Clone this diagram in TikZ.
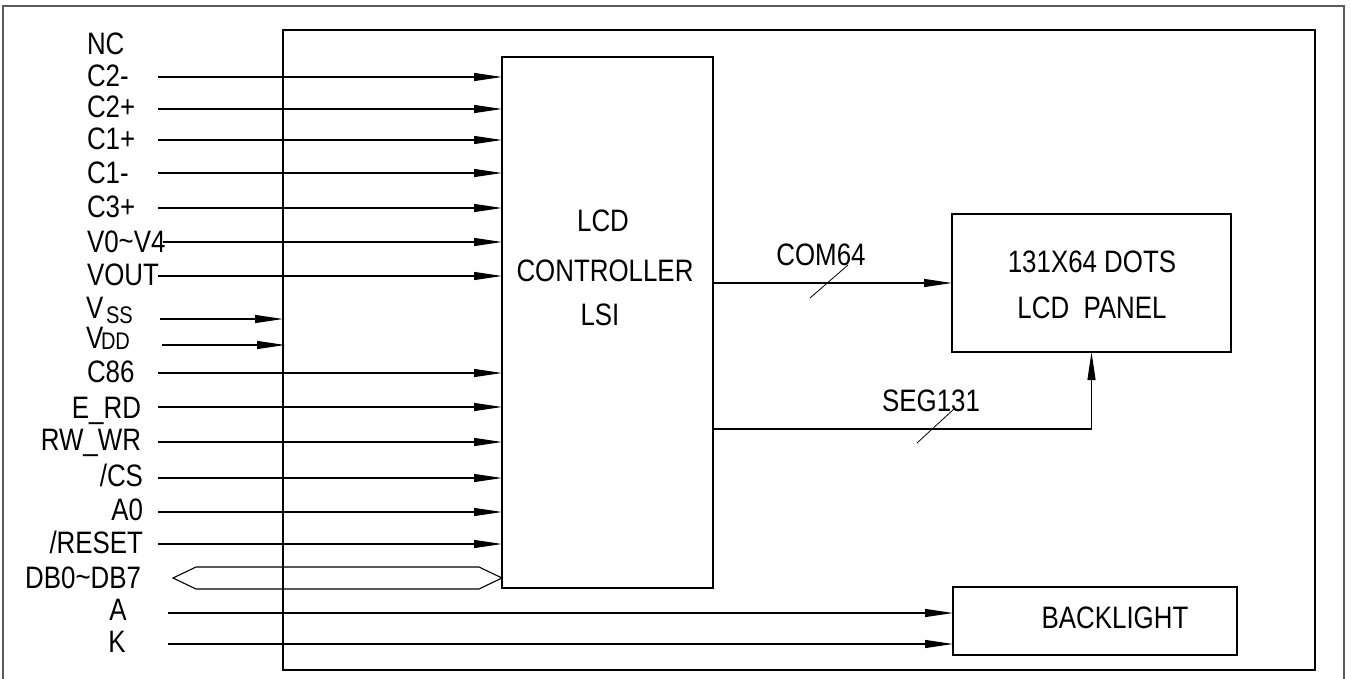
\documentclass[tikz,border=0pt]{standalone}
\usepackage{fontspec}
\setmainfont{Liberation Sans}[FakeStretch=0.835]
\usetikzlibrary{arrows.meta}
\begin{document}
\begin{tikzpicture}[x=1pt,y=-1pt,
  every node/.style={inner sep=0pt, outer sep=0pt},
  lbl/.style={font=\fontsize{31}{31}\selectfont},
  sublbl/.style={font=\fontsize{24}{24}\selectfont},
  wire/.style={line width=1.1pt},
  arr/.style={wire, -{Triangle[length=28pt,width=8pt]}},
  box/.style={draw, line width=1.3pt, rectangle},
  tick/.style={line width=0.8pt}
]
\useasboundingbox (0,0) rectangle (1351,679);
% outer frame (bottom edge lies outside the picture)
\draw[gray!70!black, line width=1.3pt] (3,679) -- (3,6) -- (1344,6) -- (1344,679);
% module frame and blocks
\node[box, anchor=north west, minimum width=1032pt, minimum height=640pt] (module) at (283,30) {};
\node[box, anchor=north west, minimum width=211pt, minimum height=531pt] (ctrl) at (502,57) {};
\node[box, anchor=north west, minimum width=279pt, minimum height=138pt] (panel) at (952,214) {};
\node[box, anchor=north west, minimum width=284pt, minimum height=68pt] (bl) at (953,587) {};
% block texts
\node[lbl, anchor=base] (t1) at (603,231) {LCD};
\node[lbl, anchor=base] (t2) at (605,281) {CONTROLLER};
\node[lbl, anchor=base] (t3) at (600,325) {LSI};
\node[lbl, anchor=base] (t4) at (1092,272) {131X64 DOTS};
\node[lbl, anchor=base] (t5) at (1092,318) {LCD\ \ PANEL};
\node[lbl, anchor=base] (t6) at (1115,628) {BACKLIGHT};
% left labels
\node[lbl, anchor=base west] (lnc) at (87,55) {NC};
\node[lbl, anchor=base west] (l1) at (87,87) {C2-};
\node[lbl, anchor=base west] (l2) at (87,118) {C2+};
\node[lbl, anchor=base west] (l3) at (87,150) {C1+};
\node[lbl, anchor=base west] (l4) at (87,183) {C1-};
\node[lbl, anchor=base west] (l5) at (87,218) {C3+};
\node[lbl, anchor=base west] (l6) at (87,252) {V0\raisebox{1pt}{\char`\~}V4};
\node[lbl, anchor=base west] (l7) at (87,285) {VOUT};
\node[lbl, anchor=base west] (lvss) at (86,318) {V};
\node[sublbl, anchor=base west] (lvss2) at (106,323) {SS};
\node[lbl, anchor=base west] (lvdd) at (86,348) {V};
\node[sublbl, anchor=base west] (lvdd2) at (101,349) {DD};
\node[lbl, anchor=base west] (l8) at (87,382) {C86};
\node[lbl, anchor=base east] (l9) at (141,418) {E\_RD};
\node[lbl, anchor=base east] (l10) at (141,450) {RW\_WR};
\node[lbl, anchor=base east] (l11) at (143,486) {/CS};
\node[lbl, anchor=base east] (l12) at (143,520) {A0};
\node[lbl, anchor=base east] (l13) at (143,553) {/RESET};
\node[lbl, anchor=base east] (l14) at (141,588) {DB0\raisebox{1pt}{\char`\~}DB7};
\node[lbl, anchor=base] (l15) at (118,620) {A};
\node[lbl, anchor=base] (l16) at (117,652) {K};
% wire start points
\coordinate (s1) at (158,77);
\coordinate (s2) at (158,109);
\coordinate (s3) at (158,140);
\coordinate (s4) at (158,173);
\coordinate (s5) at (158,208);
\coordinate (s6) at (163,242);
\coordinate (s7) at (158,276);
\coordinate (svss) at (160,319);
\coordinate (svdd) at (162,345);
\coordinate (s8) at (158,373);
\coordinate (s9) at (158,407);
\coordinate (s10) at (158,442);
\coordinate (s11) at (158,478);
\coordinate (s12) at (158,512);
\coordinate (s13) at (158,544);
\coordinate (sa) at (168,613);
\coordinate (sk) at (168,644);
\foreach \s in {s1,s2,s3,s4,s5,s6,s7,s8,s9,s10,s11,s12,s13}
  \draw[arr] (\s) -- (\s -| ctrl.west);
\draw[arr] (svss) -- (svss -| module.west);
\draw[arr] (svdd) -- ([xshift=2pt]svdd -| module.west);
\draw[arr] (sa) -- (sa -| bl.west);
\draw[arr] (sk) -- (sk -| bl.west);
% data bus
\coordinate (db) at (173,578);
\draw[wire] (db) -- (196,567) -- (479,567) -- (db -| ctrl.west) -- (479,589) -- (196,589) -- cycle;
% COM and SEG
\coordinate (com) at (0,283);
\coordinate (seg) at (0,429);
\draw[arr] (com -| ctrl.east) -- (com -| panel.west);
\draw[arr] (seg -| ctrl.east) -| (panel.south);
\node[lbl, anchor=base] (lcom) at (821,265) {COM64};
\node[lbl, anchor=base] (lseg) at (931,411) {SEG131};
\draw[tick] (810,298) -- (848,265);
\draw[tick] (917,443) -- (954,409);
\end{tikzpicture}
\end{document}
